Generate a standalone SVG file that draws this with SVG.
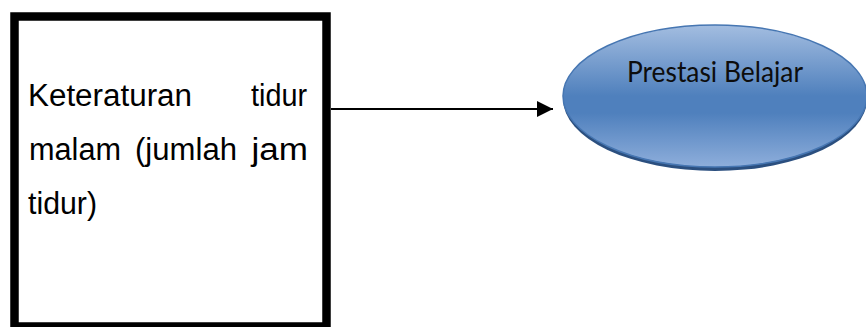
<svg xmlns="http://www.w3.org/2000/svg" width="866" height="327" viewBox="0 0 866 327">
  <style>
    .body { font-family: "Liberation Sans", Arial, sans-serif; font-size: 31px; fill: #000; }
    .oval-label { font-family: Lato, "Open Sans", sans-serif; font-size: 28px; fill: #0d0d0d; }
    .conn { stroke: #000; stroke-width: 2; fill: none; }
  </style>
  <defs>
    <linearGradient id="blueFill" x1="0" y1="0" x2="0" y2="1">
      <stop offset="0" stop-color="#a3bde0"/>
      <stop offset="0.5" stop-color="#4f80bd"/>
      <stop offset="0.62" stop-color="#4f80bd"/>
      <stop offset="1" stop-color="#8eaedb"/>
    </linearGradient>
    <marker id="arrow" viewBox="0 0 16 16" refX="16" refY="8" markerWidth="16" markerHeight="16" markerUnits="userSpaceOnUse" orient="auto">
      <path d="M0,0 L16,8 L0,16 Z" fill="#000"/>
    </marker>
  </defs>

  <rect width="866" height="327" fill="#fff"/>

  <g id="connectors">
    <line class="conn" x1="331" y1="109" x2="553" y2="109" marker-end="url(#arrow)"/>
  </g>

  <g id="node-keteraturan">
    <rect x="14.5" y="16.5" width="312" height="310" fill="#fff" stroke="#000" stroke-width="8.5"/>
    <text class="body" x="28" y="106" textLength="164" lengthAdjust="spacingAndGlyphs">Keteraturan</text>
    <text class="body" x="251" y="106" textLength="56" lengthAdjust="spacingAndGlyphs">tidur</text>
    <text class="body" x="29" y="160" textLength="92" lengthAdjust="spacingAndGlyphs">malam</text>
    <text class="body" x="135" y="160" textLength="102" lengthAdjust="spacingAndGlyphs">(jumlah</text>
    <text class="body" x="251.5" y="160" textLength="56.5" lengthAdjust="spacingAndGlyphs">jam</text>
    <text class="body" x="28" y="214" textLength="69" lengthAdjust="spacingAndGlyphs">tidur)</text>
  </g>

  <g id="node-prestasi">
    <ellipse cx="715" cy="99" rx="152" ry="72" fill="#2b4f7f"/>
    <ellipse cx="715" cy="96" rx="152" ry="71" fill="url(#blueFill)" stroke="#4676b2" stroke-width="1.5"/>
    <text class="oval-label" x="627" y="82" textLength="176" lengthAdjust="spacingAndGlyphs">Prestasi Belajar</text>
  </g>
</svg>
